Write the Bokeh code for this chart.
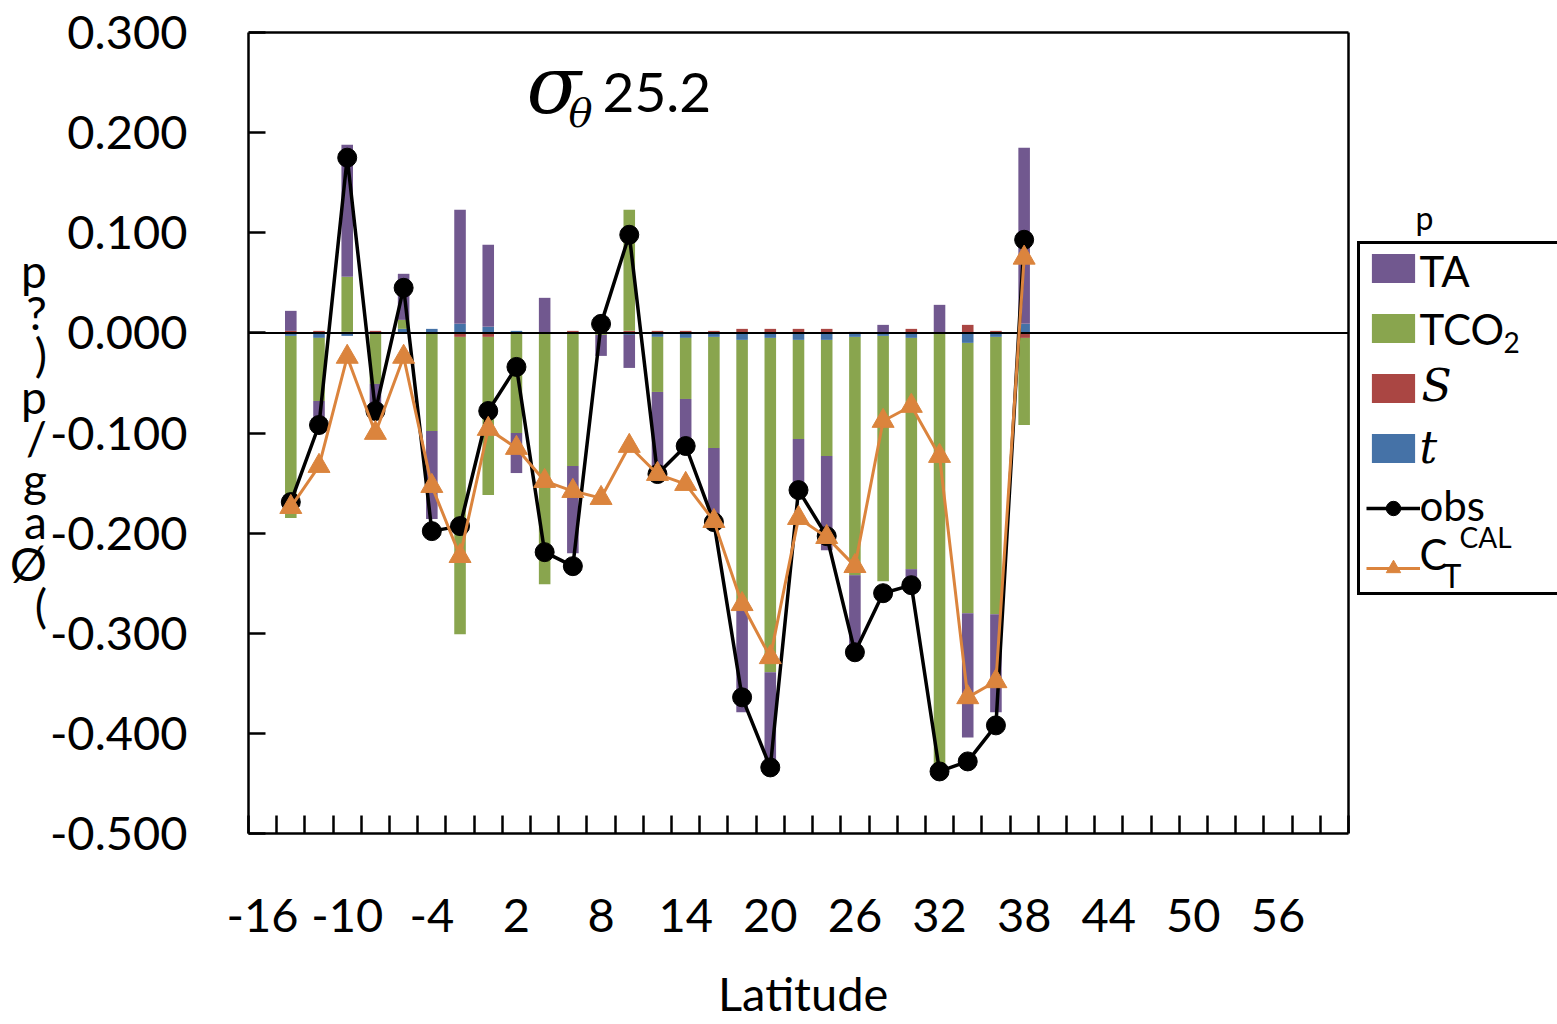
from bokeh.plotting import figure
from bokeh.models import Range1d, FixedTicker, Label, Legend, LegendItem, PrintfTickFormatter
from bokeh.embed import file_html
from bokeh.resources import INLINE

# ---------------- data ----------------
lat = [-14, -12, -10, -8, -6, -4, -2, 0, 2, 4, 6, 8, 10, 12, 14, 16, 18, 20, 22, 24, 26, 28, 30, 32, 34, 36, 38]
TA = [0.020, -0.017, 0.132, -0.020, 0.046, -0.088, 0.114, 0.082, -0.040, 0.035, -0.087, -0.021, -0.033,
      -0.083, -0.048, -0.072, -0.110, -0.095, -0.049, -0.094, -0.075, 0.008, -0.017, 0.028, -0.124, -0.098, 0.176]
TCO2 = [-0.182, -0.063, 0.055, -0.051, 0.009, -0.098, -0.297, -0.158, -0.100, -0.251, -0.133, -0.002, 0.121,
        -0.055, -0.061, -0.111, -0.262, -0.334, -0.099, -0.116, -0.238, -0.245, -0.231, -0.435, -0.270, -0.277, -0.087]
S = [0.002, 0.002, 0.001, 0.002, 0.000, 0.000, -0.004, -0.004, 0.000, 0.000, 0.002, 0.000, 0.002,
     0.002, 0.002, 0.002, 0.004, 0.004, 0.004, 0.004, 0.001, 0.000, 0.004, 0.000, 0.008, 0.002, -0.005]
t = [-0.003, -0.005, -0.003, 0.000, 0.004, 0.004, 0.009, 0.006, 0.002, 0.000, 0.000, 0.000, -0.002,
     -0.004, -0.005, -0.004, -0.007, -0.005, -0.007, -0.007, -0.004, -0.003, -0.005, 0.000, -0.010, -0.004, 0.009]
obs = [-0.169, -0.092, 0.175, -0.078, 0.045, -0.198, -0.193, -0.078, -0.034, -0.219, -0.233, 0.009, 0.098,
       -0.141, -0.113, -0.189, -0.364, -0.434, -0.157, -0.203, -0.319, -0.260, -0.252, -0.438, -0.428, -0.392, 0.093]
ct_cal = [-0.174, -0.133, -0.024, -0.100, -0.024, -0.153, -0.223, -0.096, -0.115, -0.148, -0.158, -0.165, -0.113,
          -0.141, -0.151, -0.188, -0.271, -0.324, -0.185, -0.204, -0.233, -0.088, -0.073, -0.123, -0.364, -0.348, 0.075]

x_tick_labels = [-16, -10, -4, 2, 8, 14, 20, 26, 32, 38, 44, 50, 56]
x_boundaries = [-17 + 2 * k for k in range(40)]
y_ticks = [-0.5, -0.4, -0.3, -0.2, -0.1, 0.0, 0.1, 0.2, 0.3]
y_axis_title = " \np\n?\n)\np\n/\ng\na\nØ\n("
x_axis_title = "Latitude"

colors = {"TA": "#71588F", "TCO2": "#89A54E", "S": "#AA4643", "t": "#4572A7"}
orange = "#DB843D"

# ---------------- geometry ----------------
W, H = 1557, 1024
FL, FR, FT, FB = 248, 1348, 32, 833      # visible plot box, page pixels
x_lo, x_hi = -17, 61                     # category axis extent (39 categories of width 2)
y_lo, y_hi = -0.5, 0.3
# the drawing frame reaches the right and top edges of the canvas, so that the
# legend and texts outside the plot box are not clipped
x_end = x_lo + (x_hi - x_lo) * (W - FL) / (FR - FL)
y_end = y_lo + (y_hi - y_lo) * FB / (FB - FT)

p = figure(width=W, height=H, x_range=Range1d(x_lo, x_end), y_range=Range1d(y_lo, y_end),
           output_backend="svg", toolbar_location=None,
           min_border_left=FL, min_border_right=0, min_border_top=0, min_border_bottom=H - FB)
p.xgrid.visible = False
p.ygrid.visible = False
p.outline_line_color = None
p.background_fill_color = "white"
p.border_fill_color = "white"

FONT = "Lato"
# x axis
p.xaxis.bounds = (x_lo, x_hi)
p.xaxis.ticker = FixedTicker(ticks=x_tick_labels, minor_ticks=x_boundaries)
p.xaxis.major_label_overrides = {v: str(v) for v in x_tick_labels}
p.xaxis.major_tick_in = 0
p.xaxis.major_tick_out = 0
p.xaxis.minor_tick_in = 18
p.xaxis.minor_tick_out = 0
p.xaxis.minor_tick_line_color = "black"
p.xaxis.minor_tick_line_width = 2.5
p.xaxis.axis_line_color = "black"
p.xaxis.axis_line_width = 2.5
p.xaxis.major_label_standoff = 65
p.xaxis.major_label_text_font = FONT
p.xaxis.major_label_text_font_size = "47px"
p.xaxis.major_label_text_color = "black"
# the axis title is centred under the plot box (em spaces balance the wider frame)
p.xaxis.axis_label = x_axis_title + "\u2003" * 5 + "\u2002"
p.xaxis.axis_label_text_font = FONT
p.xaxis.axis_label_text_font_size = "47px"
p.xaxis.axis_label_text_font_style = "normal"
p.xaxis.axis_label_text_color = "black"
p.xaxis.axis_label_standoff = 30

# y axis
p.yaxis.bounds = (y_lo, y_hi)
p.yaxis.ticker = FixedTicker(ticks=y_ticks, minor_ticks=[])
p.yaxis.formatter = PrintfTickFormatter(format="%.3f")
p.yaxis.major_tick_in = 17
p.yaxis.major_tick_out = 0
p.yaxis.major_tick_line_color = "black"
p.yaxis.major_tick_line_width = 2.5
p.yaxis.minor_tick_line_color = None
p.yaxis.axis_line_color = "black"
p.yaxis.axis_line_width = 2.5
p.yaxis.major_label_standoff = 61
p.yaxis.major_label_text_font = FONT
p.yaxis.major_label_text_font_size = "47px"
p.yaxis.major_label_text_color = "black"
p.yaxis.axis_label = y_axis_title
p.yaxis.axis_label_orientation = "horizontal"
p.yaxis.axis_label_text_font = FONT
p.yaxis.axis_label_text_font_size = "46px"
p.yaxis.axis_label_text_font_style = "normal"
p.yaxis.axis_label_text_line_height = 0.76
p.yaxis.axis_label_text_color = "black"
p.yaxis.axis_label_standoff = 0

# ---------------- stacked bars (t, S, TCO2, TA from axis outward) ----------------
n = len(lat)
pos = [0.0] * n
neg = [0.0] * n
bar_r = {}
for name, vals in [("t", t), ("S", S), ("TCO2", TCO2), ("TA", TA)]:
    bottoms, tops = [], []
    for i, v in enumerate(vals):
        if v >= 0:
            b = pos[i]; tp = b + v; pos[i] = tp
        else:
            b = neg[i]; tp = b + v; neg[i] = tp
        bottoms.append(b); tops.append(tp)
    bar_r[name] = p.vbar(x=lat, bottom=bottoms, top=tops, width=0.82,
                         fill_color=colors[name], line_color=None)

# zero line and the top/right edges of the plot box
p.segment(x0=[x_lo], y0=[0], x1=[x_hi], y1=[0], line_color="black", line_width=2)
p.segment(x0=[x_lo, x_hi], y0=[y_hi, y_lo], x1=[x_hi, x_hi], y1=[y_hi, y_hi],
          line_color="black", line_width=2.5)

# obs line
obs_line = p.line(lat, obs, line_color="black", line_width=3.5)
obs_pts = p.scatter(lat, obs, marker="circle", size=19, fill_color="black", line_color="black")
# CT CAL line
ct_line = p.line(lat, ct_cal, line_color=orange, line_width=3)
ct_pts = p.scatter(lat, ct_cal, marker="triangle", size=22, fill_color=orange, line_color=orange)

# ---------------- legend ----------------
legend = Legend(items=[
    LegendItem(label=" ", renderers=[bar_r["TA"]]),
    LegendItem(label=" ", renderers=[bar_r["TCO2"]]),
    LegendItem(label=" ", renderers=[bar_r["S"]]),
    LegendItem(label=" ", renderers=[bar_r["t"]]),
    LegendItem(label=" ", renderers=[obs_line, obs_pts]),
    LegendItem(label=" ", renderers=[ct_line, ct_pts]),
], location=(1357 - FL, FB - 595), glyph_width=54, glyph_height=36, label_height=36, spacing=24,
    padding=6, margin=0, label_width=150, label_standoff=5, label_text_font_size="10px",
    border_line_color="black", border_line_alpha=1.0, border_line_width=3,
    background_fill_color="white", background_fill_alpha=0.0)
p.add_layout(legend)


def lab(text, px, py, size, font=FONT, style="normal", align="left"):
    # py is the wanted baseline; Bokeh's alphabetic placement sits ~0.35 em lower
    p.add_layout(Label(x=px - FL, y=FB - py + 0.35 * size, x_units="screen", y_units="screen",
                       text=text, text_font=font, text_font_size=f"{size}px",
                       text_font_style=style, text_align=align, text_baseline="alphabetic",
                       text_color="black", level="overlay"))


# legend texts
LX = 1419
lab("p", 1415, 228, 32)
lab("TA", LX, 285, 42)
lab("TCO", LX, 343, 42)
lab("2", LX + 84, 352, 28)
lab("S", LX + 2, 400, 44, font="DejaVu Serif", style="italic")
lab("t", LX, 462, 44, font="DejaVu Serif", style="italic")
lab("obs", LX, 519, 42)
lab("C", LX, 568, 42)
lab("T", LX + 23, 586, 32)
lab("CAL", LX + 40, 546, 28)

# title inside the plot area
lab("σ", 526, 113, 80, font="DejaVu Serif", style="italic")
lab("θ", 568, 126, 40, font="DejaVu Serif", style="italic")
lab("25.2", 602, 111, 55)

open("out.html", "w").write(file_html(p, INLINE))
